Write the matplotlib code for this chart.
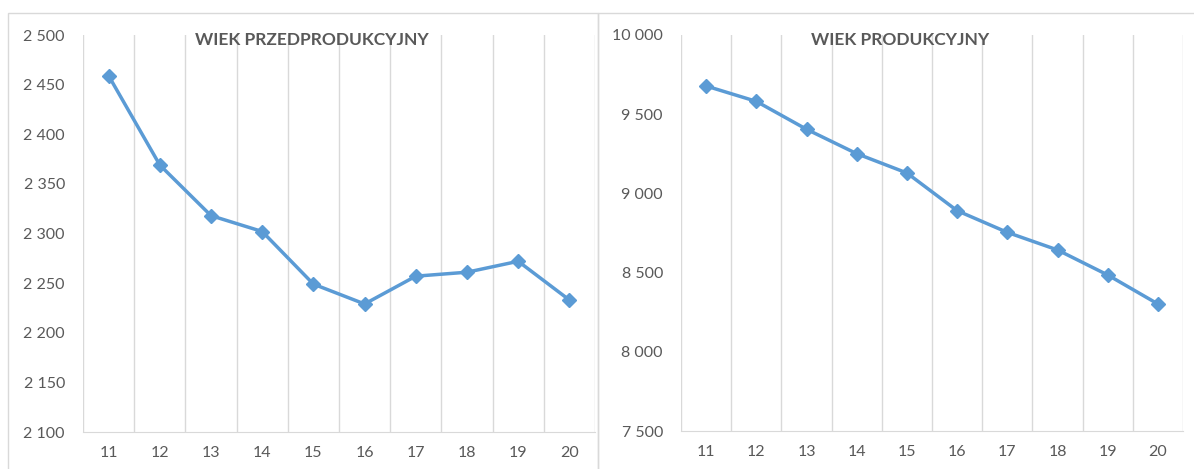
import matplotlib.pyplot as plt
from matplotlib.patches import Rectangle
from matplotlib.ticker import FuncFormatter, MultipleLocator

years = ["11", "12", "13", "14", "15", "16", "17", "18", "19", "20"]
przedprodukcyjny = [2459, 2369, 2318, 2302, 2249, 2229, 2257, 2261, 2272, 2233]
produkcyjny = [9678, 9581, 9405, 9251, 9129, 8891, 8754, 8643, 8485, 8302]

LINE = "#5b9bd5"
GRID = "#d9d9d9"
TEXT = "#595959"

plt.rcParams["font.family"] = ["Lato", "DejaVu Sans"]

W, H = 1194, 469
fig = plt.figure(figsize=(W / 100, H / 100), dpi=100)
fig.patch.set_facecolor("white")


def space_fmt(v, pos):
    return f"{int(round(v)):,}".replace(",", " ")


def panel(rect, values, ylim, step, title, title_x):
    ax = fig.add_axes(rect)
    x = list(range(len(years)))
    ax.plot(x, values, color=LINE, lw=2.5, marker="D", ms=7,
            markeredgecolor=LINE, zorder=3)
    ax.set_xlim(-0.5, len(years) - 0.5)
    ax.set_ylim(*ylim)
    ax.set_xticks(x)
    ax.set_xticklabels(years)
    ax.set_xticks([i - 0.5 for i in range(len(years) + 1)], minor=True)
    ax.yaxis.set_major_locator(MultipleLocator(step))
    ax.yaxis.set_major_formatter(FuncFormatter(space_fmt))
    ax.grid(True, which="minor", axis="x", color=GRID, lw=1)
    ax.grid(False, which="major")
    for s in ["top", "right", "left"]:
        ax.spines[s].set_visible(False)
    ax.spines["bottom"].set_color(GRID)
    ax.tick_params(axis="both", which="both", length=0, colors=TEXT,
                   labelsize=11.5)
    ax.tick_params(axis="y", pad=13)
    ax.tick_params(axis="x", pad=10)
    fig.text(title_x / W, 1 - 40 / H, title, ha="center", va="center",
             fontsize=12.5, fontweight="bold", color=TEXT)
    return ax


panel([83 / W, 1 - 432 / H, (595 - 83) / W, (432 - 35) / H],
      przedprodukcyjny, (2100, 2500), 50, "WIEK PRZEDPRODUKCYJNY", 312)
panel([681 / W, 1 - 431 / H, (1183 - 681) / W, (431 - 35) / H],
      produkcyjny, (7500, 10000), 500, "WIEK PRODUKCYJNY", 900)

# chart area borders (Excel style)
for x0, x1 in [(8, 598), (598, 1200)]:
    fig.patches.append(Rectangle((x0 / W, -0.05), (x1 - x0) / W, 1.05 - 13 / H,
                                 transform=fig.transFigure, fill=False,
                                 edgecolor=GRID, lw=1, zorder=0))

fig.savefig("out.png", dpi=100)
